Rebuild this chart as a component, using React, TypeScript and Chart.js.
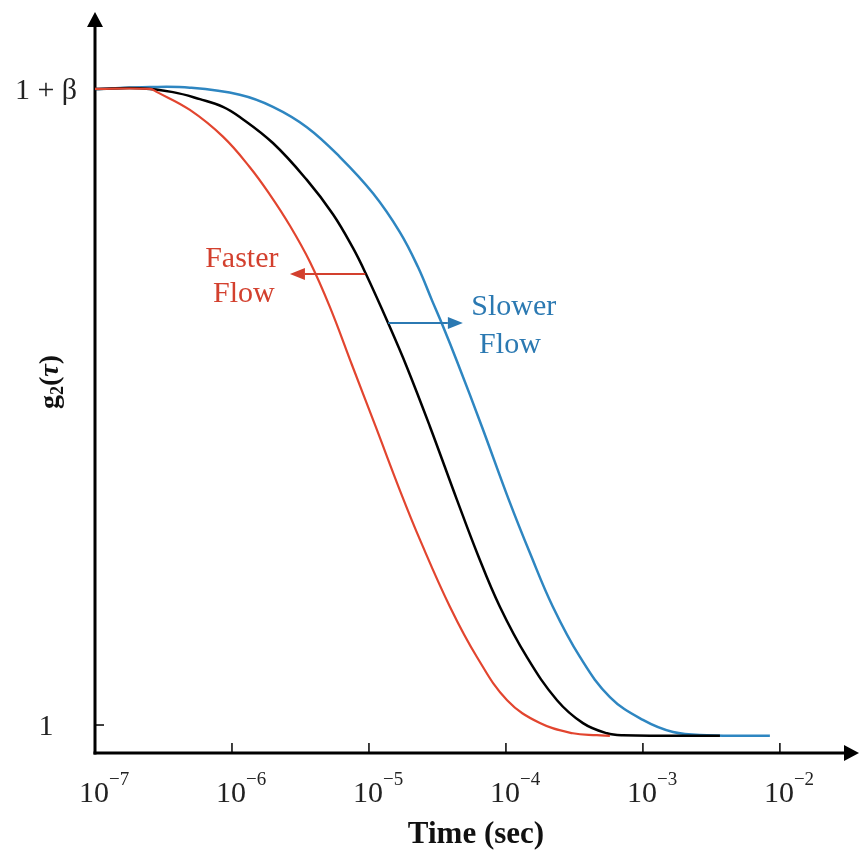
import React, { useEffect, useRef } from "react";
import { Chart, registerables } from "chart.js";

Chart.register(...registerables);

// Time values (seconds) and normalized g2 values (0 -> "1", 1 -> "1 + β")
const redTimes = [1e-7, 2.52e-7, 2.84e-7, 4.93e-7, 8.59e-7, 1.35e-6, 1.89e-6, 2.65e-6, 3.71e-6, 5.19e-6, 7.52e-6, 1.12e-5, 1.71e-5, 2.36e-5, 3.9e-5, 6.14e-5, 1.02e-4, 1.77e-4, 3.08e-4, 4.61e-4, 5.74e-4];
const redValues = [1.0, 1.0, 0.995, 0.967, 0.925, 0.877, 0.834, 0.785, 0.728, 0.657, 0.566, 0.469, 0.365, 0.291, 0.186, 0.107, 0.039, 0.003, -0.013, -0.016, -0.017];

const blackTimes = [1e-7, 2.13e-7, 3.71e-7, 5.83e-7, 8.59e-7, 1.14e-6, 1.99e-6, 3.52e-6, 5.46e-6, 7.64e-6, 9.51e-6, 1.38e-5, 1.89e-5, 2.79e-5, 4.39e-5, 6.25e-5, 9.03e-5, 1.42e-4, 2.36e-4, 3.65e-4, 5.46e-4, 7.14e-4, 3.65e-3];
const blackValues = [1.0, 1.001, 0.995, 0.984, 0.972, 0.956, 0.915, 0.857, 0.803, 0.75, 0.709, 0.632, 0.563, 0.469, 0.354, 0.267, 0.186, 0.107, 0.039, 0.003, -0.013, -0.016, -0.017];

const blueTimes = [1e-7, 2.52e-7, 4.93e-7, 1.14e-6, 1.99e-6, 3.52e-6, 6.14e-6, 1.07e-5, 1.68e-5, 2.28e-5, 2.88e-5, 3.47e-5, 4.39e-5, 6.68e-5, 1.05e-4, 1.5e-4, 2.2e-4, 3.47e-4, 5.74e-4, 1.0e-3, 1.66e-3, 2.93e-3, 8.45e-3];
const blueValues = [1.0, 1.003, 1.002, 0.991, 0.972, 0.94, 0.893, 0.836, 0.775, 0.72, 0.668, 0.627, 0.572, 0.469, 0.354, 0.27, 0.186, 0.107, 0.044, 0.008, -0.011, -0.016, -0.017];

const xTickValues = [1e-7, 1e-6, 1e-5, 1e-4, 1e-3, 1e-2];
const xTickBases = ["10", "10", "10", "10", "10", "10"];
const xTickExponents = ["\u22127", "\u22126", "\u22125", "\u22124", "\u22123", "\u22122"];
const yTickValues = [0, 1];
const yTickLabels = ["1", "1 + \u03b2"];

const xTitle = "Time (sec)";
const fasterLines = ["Faster", "Flow"];
const slowerLines = ["Slower", "Flow"];

const RED = "#e2452f";
const BLACK = "#000000";
const BLUE = "#2e86c1";
const RED_TEXT = "#d3402e";
const BLUE_TEXT = "#2b79b2";
const SERIF = "'Liberation Serif', 'Times New Roman', serif";

function toPoints(xs: number[], ys: number[]) {
  return xs.map((x, i) => ({ x, y: ys[i] }));
}

function arrow(ctx: CanvasRenderingContext2D, x1: number, y: number, x2: number, color: string) {
  const dir = x2 > x1 ? 1 : -1;
  const headLen = 15;
  ctx.save();
  ctx.strokeStyle = color;
  ctx.fillStyle = color;
  ctx.lineWidth = 2;
  ctx.beginPath();
  ctx.moveTo(x1, y);
  ctx.lineTo(x2 - dir * headLen, y);
  ctx.stroke();
  ctx.beginPath();
  ctx.moveTo(x2, y);
  ctx.lineTo(x2 - dir * headLen, y - 6);
  ctx.lineTo(x2 - dir * headLen, y + 6);
  ctx.closePath();
  ctx.fill();
  ctx.restore();
}

const decorPlugin = {
  id: "decor",
  beforeDatasetsDraw(chart: any) {
    const ctx: CanvasRenderingContext2D = chart.ctx;
    const xs = chart.scales.x;
    const ys = chart.scales.y;
    const area = chart.chartArea;
    const x0 = area.left;
    const yb = area.bottom;
    ctx.save();
    // axes
    ctx.strokeStyle = "#000";
    ctx.fillStyle = "#000";
    ctx.lineWidth = 3;
    ctx.beginPath();
    ctx.moveTo(x0, yb + 1.5);
    ctx.lineTo(x0, area.top + 14);
    ctx.stroke();
    ctx.beginPath();
    ctx.moveTo(x0 - 1.5, yb);
    ctx.lineTo(area.right - 12, yb);
    ctx.stroke();
    // arrow heads
    ctx.beginPath();
    ctx.moveTo(x0, area.top);
    ctx.lineTo(x0 - 8, area.top + 15);
    ctx.lineTo(x0 + 8, area.top + 15);
    ctx.closePath();
    ctx.fill();
    ctx.beginPath();
    ctx.moveTo(area.right, yb);
    ctx.lineTo(area.right - 15, yb - 8);
    ctx.lineTo(area.right - 15, yb + 8);
    ctx.closePath();
    ctx.fill();
    // tick marks
    ctx.lineWidth = 1.5;
    xTickValues.forEach((v, i) => {
      if (i === 0) return;
      const px = xs.getPixelForValue(v);
      ctx.beginPath();
      ctx.moveTo(px, yb);
      ctx.lineTo(px, yb - 10);
      ctx.stroke();
    });
    yTickValues.forEach((v) => {
      const py = ys.getPixelForValue(v);
      ctx.beginPath();
      ctx.moveTo(x0, py);
      ctx.lineTo(x0 + 9, py);
      ctx.stroke();
    });
    // tick labels
    ctx.fillStyle = "#222";
    xTickValues.forEach((v, i) => {
      const px = xs.getPixelForValue(v);
      ctx.font = `30px ${SERIF}`;
      ctx.textAlign = "center";
      ctx.textBaseline = "alphabetic";
      ctx.fillText(xTickBases[i], px - 1, 802);
      ctx.font = `19px ${SERIF}`;
      ctx.textAlign = "left";
      ctx.fillText(xTickExponents[i], px + 14, 785);
    });
    yTickValues.forEach((v, i) => {
      const py = ys.getPixelForValue(v);
      ctx.font = `30px ${SERIF}`;
      ctx.textAlign = "center";
      ctx.textBaseline = "alphabetic";
      ctx.fillText(yTickLabels[i], 46, py + 10);
    });
    // axis titles
    ctx.fillStyle = "#111";
    ctx.font = `bold 31px ${SERIF}`;
    ctx.textAlign = "center";
    ctx.fillText(xTitle, 476, 843);

    // y title: g2(τ) rotated
    ctx.save();
    ctx.translate(58, 382);
    ctx.rotate(-Math.PI / 2);
    const parts = [
      { t: "g", f: `bold 28px ${SERIF}`, dy: 0 },
      { t: "2", f: `bold 18px ${SERIF}`, dy: 5 },
      { t: "(", f: `bold 28px ${SERIF}`, dy: 0 },
      { t: "\u03c4", f: `bold italic 28px ${SERIF}`, dy: 0 },
      { t: ")", f: `bold 28px ${SERIF}`, dy: 0 },
    ];
    let total = 0;
    parts.forEach((p) => {
      ctx.font = p.f;
      total += ctx.measureText(p.t).width;
    });
    let cx = -total / 2;
    ctx.textAlign = "left";
    parts.forEach((p) => {
      ctx.font = p.f;
      ctx.fillText(p.t, cx, p.dy);
      cx += ctx.measureText(p.t).width;
    });
    ctx.restore();
    ctx.restore();
  },
  afterDatasetsDraw(chart: any) {
    const ctx: CanvasRenderingContext2D = chart.ctx;
    const xs = chart.scales.x;
    const ys = chart.scales.y;
    ctx.save();
    // annotation arrows
    arrow(ctx, xs.getPixelForValue(9.4e-6), ys.getPixelForValue(0.709), xs.getPixelForValue(2.65e-6), RED_TEXT);
    arrow(ctx, xs.getPixelForValue(1.38e-5), ys.getPixelForValue(0.632), xs.getPixelForValue(4.85e-5), BLUE_TEXT);
    // annotation text
    ctx.font = `30px ${SERIF}`;
    ctx.textAlign = "center";
    ctx.textBaseline = "alphabetic";
    ctx.fillStyle = RED_TEXT;
    ctx.fillText(fasterLines[0], xs.getPixelForValue(1.18e-6), ys.getPixelForValue(0.736) + 10);
    ctx.fillText(fasterLines[1], xs.getPixelForValue(1.22e-6), ys.getPixelForValue(0.681) + 10);
    ctx.fillStyle = BLUE_TEXT;
    ctx.fillText(slowerLines[0], xs.getPixelForValue(1.14e-4), ys.getPixelForValue(0.66) + 10);
    ctx.fillText(slowerLines[1], xs.getPixelForValue(1.07e-4), ys.getPixelForValue(0.601) + 10);
    ctx.restore();
  },
};

export default function App() {
  const ref = useRef<HTMLCanvasElement | null>(null);
  useEffect(() => {
    if (!ref.current) return;
    const chart = new Chart(ref.current, {
      type: "line",
      data: {
        datasets: [
          { label: "Faster", data: toPoints(redTimes, redValues), borderColor: RED, borderWidth: 2.2 },
          { label: "Reference", data: toPoints(blackTimes, blackValues), borderColor: BLACK, borderWidth: 2.5 },
          { label: "Slower", data: toPoints(blueTimes, blueValues), borderColor: BLUE, borderWidth: 2.5 },
        ].map((d) => ({ ...d, pointRadius: 0, fill: false, tension: 0.4 })),
      },
      options: {
        animation: false,
        responsive: false,
        devicePixelRatio: 1,
        layout: { padding: { left: 95, right: 0, top: 12, bottom: 103 } },
        plugins: { legend: { display: false }, tooltip: { enabled: false } },
        scales: {
          x: { type: "logarithmic", display: false, min: 1e-7, max: 0.0378 },
          y: { type: "linear", display: false, min: -0.044, max: 1.121 },
        },
      },
      plugins: [decorPlugin],
    });
    return () => chart.destroy();
  }, []);
  return (
    <div style={{ position: "absolute", left: 0, top: 0, width: 859, height: 856, background: "#fff" }}>
      <canvas ref={ref} width={859} height={856} style={{ display: "block" }} />
    </div>
  );
}
